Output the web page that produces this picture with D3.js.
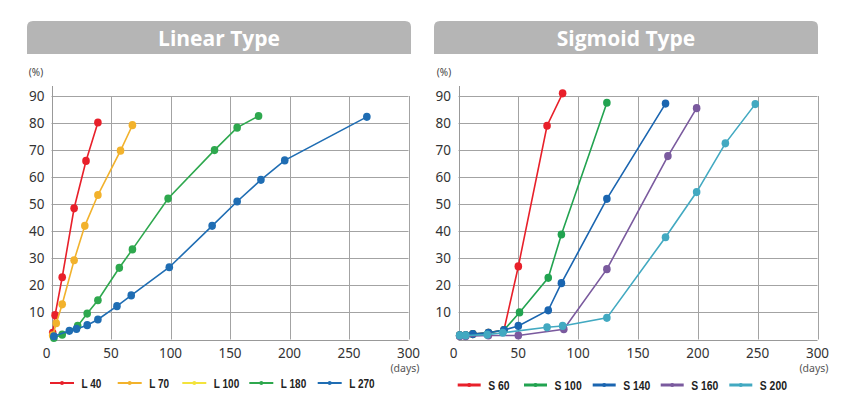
<!DOCTYPE html>
<html><head><meta charset="utf-8">
<script src="https://cdn.jsdelivr.net/npm/d3@7"></script>
<style>body{margin:0;background:#fff}svg{display:block}</style>
</head><body><svg id="c" width="845" height="420"></svg>
<script>
// ---- data ----
const xTicks = [0, 50, 100, 150, 200, 250, 300];
const yTicks = [10, 20, 30, 40, 50, 60, 70, 80, 90];
const titles = ["Linear Type", "Sigmoid Type"];

const linearNames = ["L 40", "L 70", "L 100", "L 180", "L 270"];
const linearColors = ["#e8202a", "#f2b22c", "#f3e33c", "#2ea84e", "#1f6db3"];
const L40  = [[1,2.5],[3,9],[9,23],[19,48.5],[29,66],[39,80.2]];
const L70  = [[1,1.5],[4,6],[9,13],[19,29.3],[28,42],[39,53.4],[58,69.8],[68,79.2]];
const L100 = [];
const L180 = [[2,0.6],[9,1.8],[22,5],[30,9.6],[39,14.5],[57,26.5],[68,33.3],[98,52.1],[137,70],[156,78.3],[174,82.6]];
const L270 = [[2,1.2],[15,3.2],[21,3.9],[30,5.3],[39,7.4],[55,12.3],[67,16.3],[99,26.7],[135,42],[156,51],[176,59],[196,66.2],[265,82.3]];

const sigmoidNames = ["S 60", "S 100", "S 140", "S 160", "S 200"];
const sigmoidColors = ["#e8202a", "#22a350", "#1a65b0", "#7a5a9e", "#42a9c1"];
const S60  = [[1,1.5],[6,1.5],[12,2],[25,2.5],[38,3.5],[50,27],[74,79],[87,91]];
const S100 = [[1,1.5],[6,1.5],[12,2],[25,2.5],[38,3.5],[51,10],[75,22.8],[86,38.8],[124,87.5]];
const S140 = [[1,1.5],[6,1.5],[12,2],[25,2.5],[38,3.5],[50,5],[75,10.8],[86,20.8],[124,52],[173,87.2]];
const S160 = [[1,1.2],[6,1.2],[25,1.5],[50,1.5],[88,3.8],[124,26],[175,67.8],[199,85.5]];
const S200 = [[1,1.5],[6,1.5],[24,1.8],[37,2.5],[74,4.5],[87,5],[124,8],[173,37.8],[199,54.5],[223,72.5],[248,87]];

const panels = [
  {title: titles[0], names: linearNames, colors: linearColors, series: [L40, L70, L100, L180, L270],
   bar: [27, 411], x: [51.5, 408.5], labelEnd: 44.5, pctX: 36, legend: {lines: [50, 117.7, 182.3, 249.3, 317.7], w: 24, y: 383, fs: 12.5, lw: 2}, days: 405},
  {title: titles[1], names: sigmoidNames, colors: sigmoidColors, series: [S60, S100, S140, S160, S200],
   bar: [434, 818], x: [458.5, 817.5], labelEnd: 451, pctX: 444, legend: {lines: [457.7, 524, 592.7, 660.7, 729.3], w: 23, y: 385, fs: 13, lw: 3}, days: 814}
];

const svg = d3.select("#c");
const yTop = 96, yBot = 339.5;

panels.forEach(p => {
  const g = svg.append("g");
  const x = d3.scaleLinear().domain([0, 300]).range(p.x);
  const y = d3.scaleLinear().domain([0, 90]).range([yBot, yTop]);

  // title bar
  const r = 6, bx0 = p.bar[0], bx1 = p.bar[1], by0 = 21, by1 = 54;
  g.append("path")
    .attr("d", `M${bx0},${by1}V${by0+r}Q${bx0},${by0} ${bx0+r},${by0}H${bx1-r}Q${bx1},${by0} ${bx1},${by0+r}V${by1}Z`)
    .attr("fill", "#b5b5b5");
  g.append("text").attr("x", (bx0+bx1)/2).attr("y", 45.5).attr("text-anchor", "middle")
    .attr("font-family", "'Open Sans', 'Noto Sans', sans-serif").attr("font-weight", "bold")
    .attr("font-size", 21).attr("fill", "#fff").text(p.title);

  // gridlines
  g.append("g").selectAll("line").data(yTicks).join("line")
    .attr("x1", p.x[0]).attr("x2", p.x[1])
    .attr("y1", d => Math.round(y(d)) + 0.5).attr("y2", d => Math.round(y(d)) + 0.5)
    .attr("stroke", "#a3a3a3").attr("stroke-width", 1);
  g.append("g").selectAll("line").data(xTicks.slice(1)).join("line")
    .attr("x1", d => Math.round(x(d)) + 0.5).attr("x2", d => Math.round(x(d)) + 0.5)
    .attr("y1", yTop).attr("y2", yBot)
    .attr("stroke", "#a3a3a3").attr("stroke-width", 1);
  // axes lines
  g.append("line").attr("x1", Math.round(p.x[0]) + 0.5).attr("x2", Math.round(p.x[0]) + 0.5)
    .attr("y1", 86).attr("y2", yBot).attr("stroke", "#999").attr("stroke-width", 1);
  g.append("line").attr("x1", p.x[0]).attr("x2", p.x[1])
    .attr("y1", Math.round(yBot) + 0.5).attr("y2", Math.round(yBot) + 0.5).attr("stroke", "#999").attr("stroke-width", 1);

  // tick labels
  g.append("g").selectAll("text").data(yTicks).join("text")
    .attr("x", p.labelEnd).attr("y", d => y(d) + 5).attr("text-anchor", "end")
    .attr("font-family", "'Noto Sans', sans-serif").attr("font-size", 13.5).attr("fill", "#333")
    .text(d => d);
  g.append("g").selectAll("text").data(xTicks).join("text")
    .attr("x", d => d === 0 ? x(d) - 5 : x(d)).attr("y", 357.5).attr("text-anchor", "middle")
    .attr("font-family", "'Noto Sans', sans-serif").attr("font-size", 13.5).attr("fill", "#333")
    .text(d => d);
  g.append("text").attr("x", p.pctX).attr("y", 76).attr("text-anchor", "middle")
    .attr("font-family", "'Noto Sans', sans-serif").attr("font-size", 10).attr("fill", "#444").text("(%)");
  g.append("text").attr("x", p.days).attr("y", 372).attr("text-anchor", "middle")
    .attr("font-family", "'Noto Sans', sans-serif").attr("font-size", 10.5).attr("fill", "#555").text("(days)");

  // series
  const line = d3.line().x(d => x(d[0])).y(d => y(d[1]));
  p.series.forEach((s, i) => {
    if (!s.length) return;
    g.append("path").datum(s).attr("d", line).attr("fill", "none")
      .attr("stroke", p.colors[i]).attr("stroke-width", 1.6);
    g.append("g").selectAll("ellipse").data(s).join("ellipse")
      .attr("cx", d => x(d[0])).attr("cy", d => y(d[1])).attr("rx", 3.8).attr("ry", 4.1)
      .attr("fill", p.colors[i]);
  });

  // legend
  const L = p.legend;
  p.names.forEach((n, i) => {
    const lx = L.lines[i];
    g.append("line").attr("x1", lx).attr("x2", lx + L.w).attr("y1", L.y).attr("y2", L.y)
      .attr("stroke", p.colors[i]).attr("stroke-width", L.lw);
    g.append("circle").attr("cx", lx + L.w/2).attr("cy", L.y).attr("r", 2).attr("fill", p.colors[i]);
    const t = g.append("text").attr("x", lx + L.w + 7.5).attr("y", L.y + 4.5)
      .attr("font-family", "'Liberation Sans', Arial, sans-serif")
      .attr("font-weight", "bold").attr("font-size", L.fs).attr("fill", "#222").text(n);
    const len = t.node().getComputedTextLength();
    t.attr("textLength", len * 0.8).attr("lengthAdjust", "spacingAndGlyphs");
  });
});
</script></body></html>
